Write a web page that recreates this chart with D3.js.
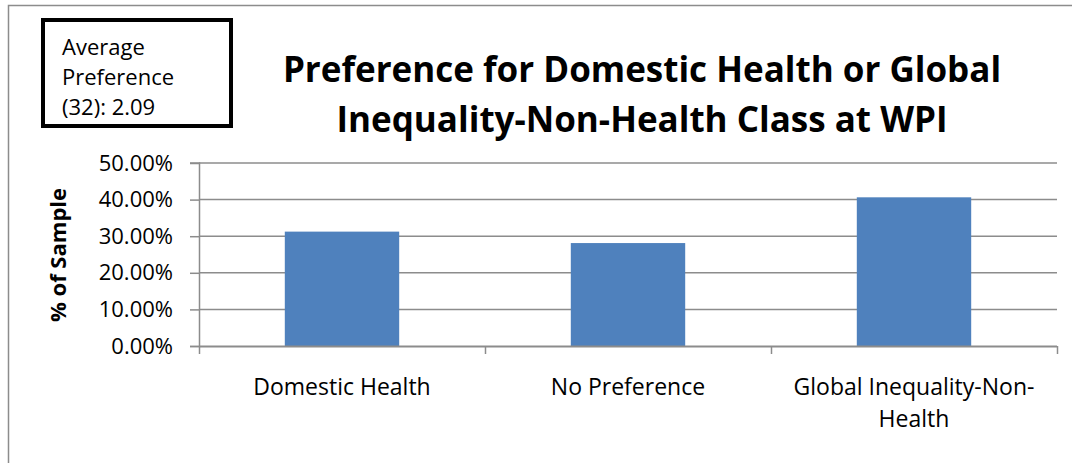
<!DOCTYPE html>
<html>
<head>
<meta charset="utf-8">
<script src="https://cdn.jsdelivr.net/npm/d3@7"></script>
<style>
  body { margin: 0; background: #fff; }
  svg text { font-family: "Open Sans", "Noto Sans", sans-serif; fill: #000; }
</style>
</head>
<body>
<script>
'use strict';

// chart data
const categories = ["Domestic Health", "No Preference", "Global Inequality-Non-Health"];
const categoryLines = [["Domestic Health"], ["No Preference"], ["Global Inequality-Non-", "Health"]];
const shares = [31.25, 28.125, 40.625];
const yTicks = [0, 10, 20, 30, 40, 50];
const titleLines = ["Preference for Domestic Health or Global", "Inequality-Non-Health Class at WPI"];
const noteLines = ["Average", "Preference", "(32): 2.09"];

(function() {
  const width = 1072, height = 463;
  const plot = {left: 199, right: 1057, top: 163, bottom: 346};

  const svg = d3.select('body').append('svg')
    .attr('width', width)
    .attr('height', height);

  // outer chart frame
  svg.append('path')
    .attr('d', 'M8.5,' + height + 'V5.5H' + width)
    .attr('fill', 'none')
    .attr('stroke', '#8c8c8c')
    .attr('stroke-width', 1.5);

  let x = d3.scaleBand()
    .domain(categories)
    .range([plot.left, plot.right])
    .paddingInner(0.6)
    .paddingOuter(0.3);

  let y = d3.scaleLinear()
    .domain([0, 50])
    .range([plot.bottom, plot.top]);

  // gridlines
  svg.append('g')
    .selectAll('line')
    .data(yTicks.slice(1))
    .enter()
    .append('line')
      .attr('x1', plot.left)
      .attr('x2', plot.right)
      .attr('y1', d => y(d))
      .attr('y2', d => y(d))
      .attr('stroke', '#8c8c8c')
      .attr('stroke-width', 1.5);

  // bars
  svg.append('g')
    .selectAll('rect')
    .data(shares)
    .enter()
    .append('rect')
      .attr('x', (d, i) => x(categories[i]))
      .attr('y', d => y(d))
      .attr('width', x.bandwidth())
      .attr('height', d => y(0) - y(d))
      .attr('fill', '#4f81bd');

  // y axis
  let yAxis = d3.axisLeft(y)
    .tickValues(yTicks)
    .tickSize(9)
    .tickPadding(17)
    .tickFormat(d => d.toFixed(2) + '%');
  let gy = svg.append('g')
    .attr('transform', 'translate(' + plot.left + ',0)')
    .call(yAxis);
  gy.select('.domain').attr('stroke', '#8c8c8c').attr('stroke-width', 1.5)
    .attr('d', 'M-9,' + (plot.bottom + 0.5) + 'H0.5V' + plot.top + 'H-9');
  gy.selectAll('.tick line').attr('stroke', '#8c8c8c').attr('stroke-width', 1.5);
  gy.selectAll('.tick text')
    .style('font-size', '22px')
    .style('font-family', '"Open Sans", sans-serif')
    .attr('fill', '#000');

  // x axis line with category dividers
  let edges = categories.map(c => x(c) - x.step() * x.paddingInner() / 2)
    .concat([plot.right]);
  edges[0] = plot.left;
  svg.append('line')
    .attr('x1', plot.left)
    .attr('x2', plot.right)
    .attr('y1', plot.bottom + 0.5)
    .attr('y2', plot.bottom + 0.5)
    .attr('stroke', '#8c8c8c')
    .attr('stroke-width', 2);
  svg.append('g')
    .selectAll('line')
    .data(edges)
    .enter()
    .append('line')
      .attr('x1', d => d + 0.5)
      .attr('x2', d => d + 0.5)
      .attr('y1', plot.bottom)
      .attr('y2', plot.bottom + 8)
      .attr('stroke', '#8c8c8c')
      .attr('stroke-width', 1.5);

  // category labels
  let labels = svg.append('g')
    .selectAll('text')
    .data(categoryLines)
    .enter()
    .append('text')
      .attr('text-anchor', 'middle')
      .style('font-size', '23px');
  labels.selectAll('tspan')
    .data((d, i) => d.map(t => ({t: t, i: i})))
    .enter()
    .append('tspan')
      .attr('x', d => x(categories[d.i]) + x.bandwidth() / 2)
      .attr('y', (d, j) => 395 + j * 32)
      .text(d => d.t);

  // y axis title
  svg.append('text')
    .attr('transform', 'translate(66,255)rotate(-90)')
    .attr('text-anchor', 'middle')
    .style('font-size', '22px')
    .style('font-weight', 'bold')
    .text('% of Sample');

  // chart title
  svg.append('text')
    .attr('text-anchor', 'middle')
    .style('font-size', '35px')
    .style('font-weight', 'bold')
    .selectAll('tspan')
    .data(titleLines)
    .enter()
    .append('tspan')
      .attr('x', 642)
      .attr('y', (d, i) => 82 + i * 50)
      .text(d => d);

  // note box
  svg.append('rect')
    .attr('x', 43)
    .attr('y', 20)
    .attr('width', 188)
    .attr('height', 106)
    .attr('fill', '#fff')
    .attr('stroke', '#000')
    .attr('stroke-width', 4);
  svg.append('text')
    .style('font-size', '22px')
    .selectAll('tspan')
    .data(noteLines)
    .enter()
    .append('tspan')
      .attr('x', 62)
      .attr('y', (d, i) => 55 + i * 30)
      .text(d => d);
})();
</script>
</body>
</html>
